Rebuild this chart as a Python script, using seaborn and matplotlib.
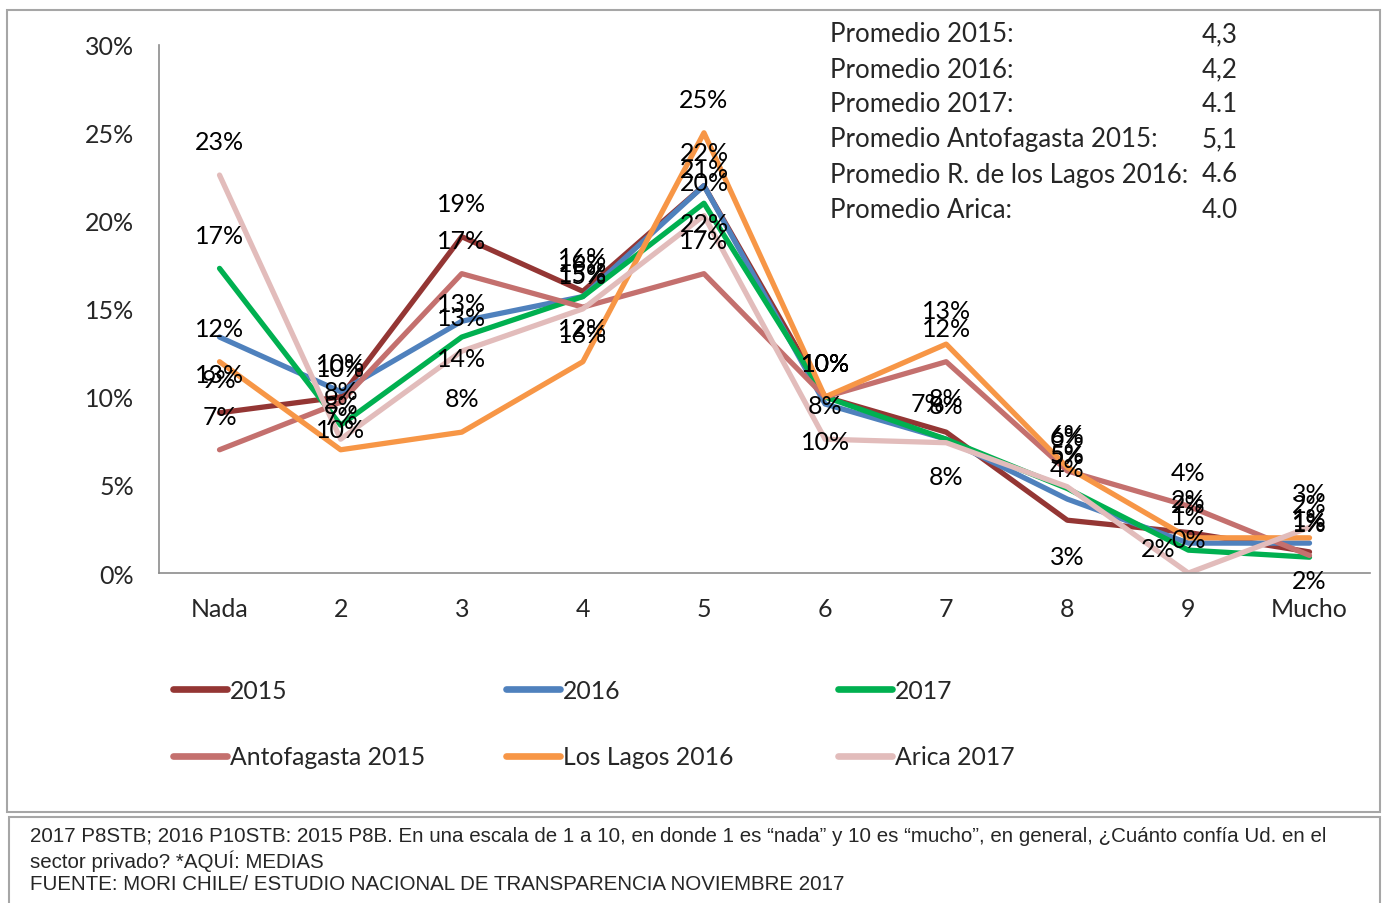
import pandas as pd
import seaborn as sns
import matplotlib.pyplot as plt
from matplotlib.lines import Line2D
from matplotlib.patches import Rectangle

# escala de confianza 1..10
categorias = ["Nada", "2", "3", "4", "5", "6", "7", "8", "9", "Mucho"]

v2015 = [9.1, 10.0, 19.1, 16.0, 22.0, 10.0, 8.0, 3.0, 2.3, 1.2]
v2016 = [13.4, 10.3, 14.3, 15.7, 22.0, 9.6, 7.6, 4.2, 1.7, 1.7]
v2017 = [17.3, 8.4, 13.4, 15.7, 21.0, 10.0, 7.6, 4.8, 1.3, 0.9]
antofagasta_2015 = [7.0, 9.7, 17.0, 15.1, 17.0, 10.0, 12.0, 5.8, 3.8, 1.0]
los_lagos_2016 = [12.0, 7.0, 8.0, 12.0, 25.0, 10.0, 13.0, 6.0, 2.0, 2.0]
arica_2017 = [22.6, 7.6, 12.6, 15.0, 20.3, 7.6, 7.4, 4.9, 0.0, 2.6]

series = ["2015", "2016", "2017", "Antofagasta 2015", "Los Lagos 2016", "Arica 2017"]
valores = [v2015, v2016, v2017, antofagasta_2015, los_lagos_2016, arica_2017]
colores = ["#943634", "#4F81BD", "#00B050", "#C4706E", "#F79646", "#E2BCBB"]

promedio_labels = ["Promedio 2015:", "Promedio 2016:", "Promedio 2017:",
                   "Promedio Antofagasta 2015:", "Promedio R. de los Lagos 2016:",
                   "Promedio Arica:"]
promedio_valores = ["4,3", "4,2", "4.1", "5,1", "4.6", "4.0"]

nota = ["2017 P8STB; 2016 P10STB: 2015 P8B. En una escala de 1 a 10, en donde 1 es \u201cnada\u201d y 10 es \u201cmucho\u201d, en general, \u00bfCu\u00e1nto conf\u00eda Ud. en el",
        "sector privado? *AQU\u00cd: MEDIAS",
        "FUENTE: MORI CHILE/ ESTUDIO NACIONAL DE TRANSPARENCIA NOVIEMBRE 2017"]

df = pd.DataFrame({
    "cat": categorias * len(series),
    "pos": list(range(len(categorias))) * len(series),
    "serie": [s for s in series for _ in categorias],
    "valor": [v for vals in valores for v in vals],
})

sns.set_style("white")
plt.rcParams["font.family"] = ["Lato", "DejaVu Sans"]

fig = plt.figure(figsize=(13.86, 9.04), dpi=100)
ax = fig.add_axes([0.1147, 0.365, 0.8738, 0.5844])

sns.lineplot(data=df, x="pos", y="valor", hue="serie", hue_order=series,
             palette=dict(zip(series, colores)), linewidth=3.8, sort=False,
             legend=False, ax=ax)

# etiquetas de datos (arriba por defecto, 2016 abajo)
offset_default = {s: (0, 24) for s in series}
offset_default["2016"] = (0, -27)
offset_especial = {("2015", 7): (0, -26), ("2016", 7): (0, 22), ("2016", 8): (-22, -4),
                   ("Arica 2017", 6): (-13, 28)}
for s, vals in zip(series, valores):
    for i, v in enumerate(vals):
        dx, dy = offset_especial.get((s, i), offset_default[s])
        ax.annotate(f"{v:.0f}%", (i, v), xytext=(dx, dy), textcoords="offset points",
                    ha="center", va="center", fontsize=18, color="black")

ax.set_xlim(-0.5, len(categorias) - 0.5)
ax.set_ylim(0, 30)
ax.set_xticks(range(len(categorias)))
ax.set_xticklabels(categorias)
ax.set_yticks(range(0, 31, 5))
ax.set_yticklabels([f"{t}%" for t in range(0, 31, 5)])
ax.tick_params(axis="both", length=0, labelsize=18)
ax.tick_params(axis="y", pad=18)
ax.tick_params(axis="x", pad=17)
ax.set_xlabel("")
ax.set_ylabel("")
for sp in ["top", "right"]:
    ax.spines[sp].set_visible(False)
for sp in ["left", "bottom"]:
    ax.spines[sp].set_color("#8C8C8C")
    ax.spines[sp].set_linewidth(1.2)

# promedios
for k, (lab, val) in enumerate(zip(promedio_labels, promedio_valores)):
    y = 1 - (35 + 35 * k) / 904
    fig.text(830 / 1386, y, lab, fontsize=18.6, va="center", ha="left")
    fig.text(1202 / 1386, y, val, fontsize=18.6, va="center", ha="left")

# leyenda en tres columnas
col_x = [173, 506, 838]
for j, x in enumerate(col_x):
    idx = [j, j + 3]
    handles = [Line2D([0], [0], color=colores[i], lw=4.8, solid_capstyle="round") for i in idx]
    fig.legend(handles, [series[i] for i in idx], loc="upper left",
               bbox_to_anchor=(x / 1386, 1 - 680 / 904), frameon=False,
               fontsize=17.8, handlelength=2.2, handletextpad=0.1,
               borderpad=0, borderaxespad=0, labelspacing=1.75)

# marcos
fig.patches.append(Rectangle((7 / 1386, 1 - 813 / 904), 1373 / 1386, 802 / 904,
                             transform=fig.transFigure, fill=False,
                             edgecolor="#A6A6A6", linewidth=1.5))
fig.patches.append(Rectangle((9 / 1386, -0.02), 1371 / 1386, 0.02 + 1 - 818 / 904,
                             transform=fig.transFigure, fill=False,
                             edgecolor="#A6A6A6", linewidth=1.5))

for k, linea in enumerate(nota):
    fig.text(30 / 1386, 1 - (837 + 24 * k) / 904, linea, fontsize=14.8,
             va="center", ha="left", family=["Liberation Sans"])

fig.savefig("out.png", dpi=100)
